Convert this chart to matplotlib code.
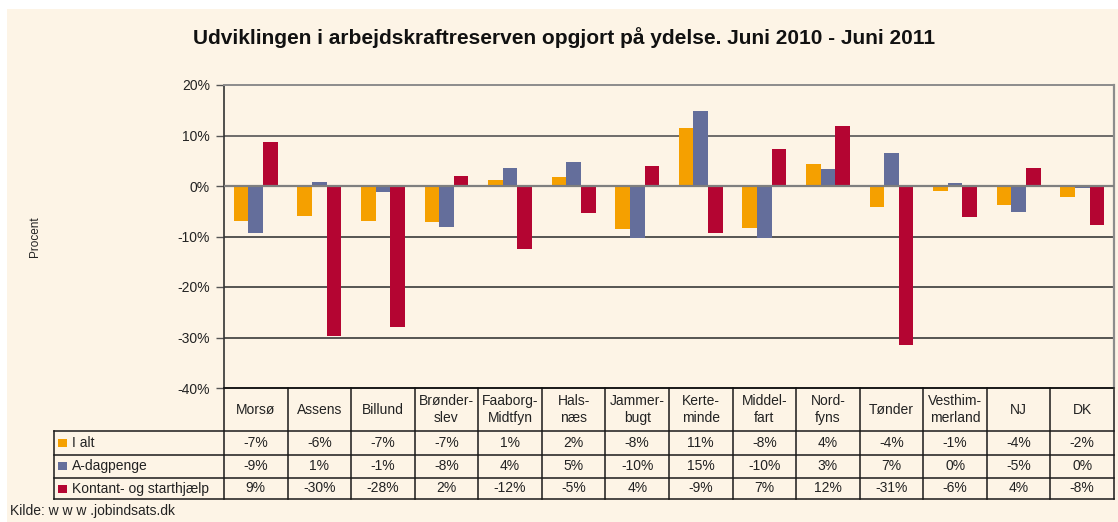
import numpy as np
import matplotlib
matplotlib.use("Agg")
from matplotlib import pyplot as plt
from matplotlib.patches import Rectangle

plt.rcParams["font.family"] = ["Liberation Sans", "DejaVu Sans"]

# Data
kommuner = ["Morsø", "Assens", "Billund", "Brønder-\nslev", "Faaborg-\nMidtfyn", "Hals-\nnæs",
            "Jammer-\nbugt", "Kerte-\nminde", "Middel-\nfart", "Nord-\nfyns", "Tønder",
            "Vesthim-\nmerland", "NJ", "DK"]
series_names = ["I alt", "A-dagpenge", "Kontant- og starthjælp"]
i_alt = [-6.9, -5.9, -6.9, -7.1, 1.2, 1.8, -8.5, 11.4, -8.4, 4.4, -4.1, -0.9, -3.7, -2.1]
a_dagpenge = [-9.4, 0.8, -1.1, -8.1, 3.6, 4.8, -10.3, 14.8, -10.3, 3.4, 6.6, 0.5, -5.1, -0.3]
kontant = [8.8, -29.8, -27.9, 2.0, -12.4, -5.4, 4.0, -9.3, 7.4, 11.8, -31.4, -6.1, 3.6, -7.8]
yticks = [20, 10, 0, -10, -20, -30, -40]

colors = ["#F5A000", "#646E9B", "#B40532"]
cream = "#FDF4E6"
ink = "#222222"

W, H = 1118, 522
fig = plt.figure(figsize=(W / 100, H / 100), dpi=100, facecolor="white")
# cream background (thin white strip at top and left as in the original)
fig.add_artist(Rectangle((7 / W, 0), 1 - 7 / W, (H - 9) / H, transform=fig.transFigure,
                         facecolor=cream, edgecolor="none", zorder=0))

ax_l, ax_r, ax_t, ax_b = 224, 1114, 85, 388
ax = fig.add_axes([ax_l / W, 1 - ax_b / H, (ax_r - ax_l) / W, (ax_b - ax_t) / H])
ax.set_facecolor("none")

n = len(kommuner)
x = np.arange(n)
bw = 0.23
all_series = [i_alt, a_dagpenge, kontant]
for i, vals in enumerate(all_series):
    ax.bar(x + (i - 1) * bw, vals, width=bw, color=colors[i], zorder=2, linewidth=0)

ax.set_xlim(-0.5, n - 0.5)
ax.set_ylim(-40, 20)

# gridlines
for t in [10, -10, -20, -30]:
    ax.axhline(t, color="#3a3a3a" if t < 10 else "#555555", lw=1.2, zorder=1)
ax.axhline(0, color="#7f7f7f", lw=1.6, zorder=3)

ax.spines["top"].set_color("#8c8c8c")
ax.spines["top"].set_linewidth(1.4)
ax.spines["right"].set_color("#8c8c8c")
ax.spines["right"].set_linewidth(1.6)
ax.spines["left"].set_color("#333333")
ax.spines["left"].set_linewidth(1.2)
ax.spines["bottom"].set_color("#111111")
ax.spines["bottom"].set_linewidth(1.1)

ax.set_xticks([])
ax.set_yticks(yticks)
ax.set_yticklabels([f"{t}%" for t in yticks], fontsize=10, color=ink)
ax.tick_params(axis="y", length=6, width=1, color="#555555", pad=4)

# Labels
fig.text(564 / W, 1 - 38 / H, "Udviklingen i arbejdskraftreserven opgjort på ydelse. Juni 2010 - Juni 2011",
         ha="center", va="center", fontsize=15, fontweight="bold", color="#111111")
fig.text(35 / W, 1 - 237 / H, "Procent", rotation=90, ha="center", va="center", fontsize=8.5,
         color=ink)
fig.text(10 / W, 1 - 511 / H, "Kilde: w w w .jobindsats.dk", ha="left", va="center", fontsize=10,
         color=ink)

# Data table under the axes: x in data units, y in axes fraction
tr = ax.get_xaxis_transform()
col_w = (ax_r - ax_l) / n                 # pixels per category
label_w = (ax_l - 54) / col_w             # row label column, in category units
tab_left = -0.5 - label_w
px = ax_b - ax_t
row_edges = [-(p - ax_b) / px for p in [388, 431, 454.5, 478, 499]]
lk = dict(color="#1a1a1a", lw=1.1, transform=tr, clip_on=False)

# horizontal rules
ax.plot([-0.5, n - 0.5], [row_edges[0]] * 2, **lk)
for yv in row_edges[1:]:
    ax.plot([tab_left, n - 0.5], [yv, yv], **lk)
# vertical rules
for xv in np.arange(n + 1) - 0.5:
    ax.plot([xv, xv], [row_edges[0], row_edges[-1]], **lk)
ax.plot([tab_left, tab_left], [row_edges[1], row_edges[-1]], **lk)

# header row
yc = (row_edges[0] + row_edges[1]) / 2
for j, name in enumerate(kommuner):
    ax.text(j, yc, name, transform=tr, ha="center", va="center", fontsize=10, color=ink,
            linespacing=1.25, clip_on=False)

# value rows with legend keys
for i, vals in enumerate(all_series):
    yc = (row_edges[i + 1] + row_edges[i + 2]) / 2
    ax.add_patch(Rectangle((tab_left + 4 / col_w, yc - 4 / px), 9 / col_w, 8 / px, transform=tr,
                           facecolor=colors[i], edgecolor="none", clip_on=False))
    ax.text(tab_left + 18 / col_w, yc, series_names[i], transform=tr, ha="left", va="center",
            fontsize=10, color=ink, clip_on=False)
    for j, v in enumerate(vals):
        ax.text(j, yc, f"{round(v)}%", transform=tr, ha="center", va="center", fontsize=10,
                color=ink, clip_on=False)

fig.savefig("out.png", dpi=100, facecolor=fig.get_facecolor())
